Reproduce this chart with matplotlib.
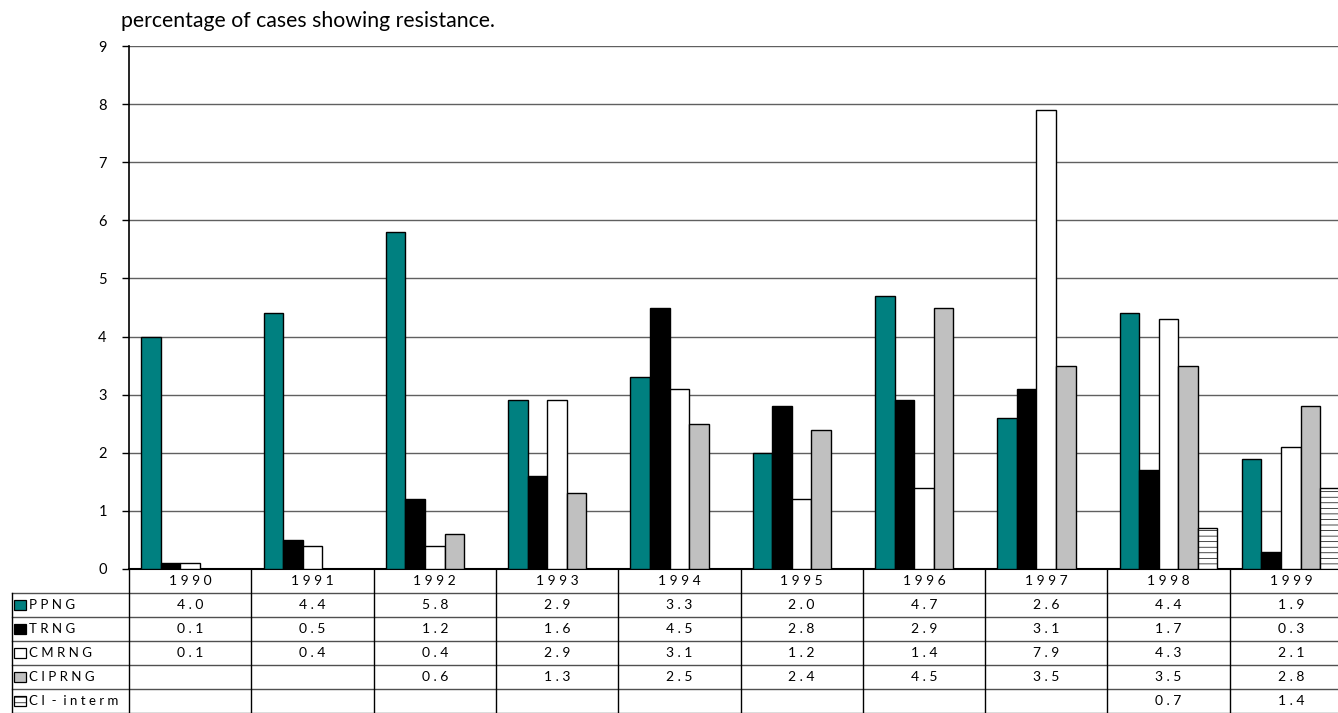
import numpy as np
import matplotlib
matplotlib.use('Agg')
from matplotlib import pyplot as plt
from matplotlib.patches import Rectangle

plt.rcParams['font.family'] = ['Lato', 'DejaVu Sans']
plt.rcParams['hatch.linewidth'] = 0.5
plt.rcParams['hatch.color'] = '#555555'

years = ['1990', '1991', '1992', '1993', '1994', '1995', '1996', '1997', '1998', '1999']
series_names = ['PPNG', 'TRNG', 'CMRNG', 'CIPRNG', 'CI - interm']
ppng = [4.0, 4.4, 5.8, 2.9, 3.3, 2.0, 4.7, 2.6, 4.4, 1.9]
trng = [0.1, 0.5, 1.2, 1.6, 4.5, 2.8, 2.9, 3.1, 1.7, 0.3]
cmrng = [0.1, 0.4, 0.4, 2.9, 3.1, 1.2, 1.4, 7.9, 4.3, 2.1]
ciprng = [None, None, 0.6, 1.3, 2.5, 2.4, 4.5, 3.5, 3.5, 2.8]
ci_interm = [None, None, None, None, None, None, None, None, 0.7, 1.4]

all_series = [ppng, trng, cmrng, ciprng, ci_interm]
face_colors = ['#008080', '#000000', '#ffffff', '#c0c0c0', '#ffffff']
hatches = [None, None, None, None, '---']

W, H = 1338, 713
fig = plt.figure(figsize=(W / 100, H / 100), dpi=100)

# axes run past the right edge of the page on purpose
ax_left, ax_width = 129 / W, 1223 / W
ax = fig.add_axes([ax_left, 144 / H, ax_width, 523 / H])
ax_tab = fig.add_axes([ax_left, 0, ax_width, 144 / H])

x = np.arange(len(years))
bar_w = 0.16
for j, (vals, fc, hh) in enumerate(zip(all_series, face_colors, hatches)):
    for i, v in enumerate(vals):
        if v is None:
            continue
        ax.bar(x[i] + (j - 2) * bar_w, v, width=bar_w, color=fc, edgecolor='black',
               linewidth=1.0, hatch=hh, zorder=3)

ax.set_xlim(-0.5, len(years) - 0.5)
ax.set_ylim(0, 9)
ax.set_yticks(range(0, 10))
ax.set_xticks([])
ax.tick_params(axis='y', direction='out', length=5, width=1, pad=11, labelsize=10.5)
ax.yaxis.grid(True, color='#606060', linewidth=1.0)
ax.set_axisbelow(True)
for side in ['top', 'right']:
    ax.spines[side].set_visible(False)
ax.spines['left'].set_linewidth(1.2)
ax.spines['bottom'].set_linewidth(1.5)

fig.text(121 / W, 1 - 21 / H, 'percentage of cases showing resistance.',
         fontsize=15.3, va='center', ha='left')

# data table under the chart
ax_tab.set_xlim(-0.5, len(years) - 0.5)
ax_tab.set_ylim(6, 0)
ax_tab.axis('off')
px = 1 / 122.3
lab_left = -0.5 - 117 * px


def spaced(s):
    return ' '.join(s)


for k in range(1, 7):
    ax_tab.plot([lab_left, len(years) - 0.5], [k, k], color='#505050', lw=1.0, clip_on=False)
for b in range(len(years) + 1):
    ax_tab.plot([b - 0.5, b - 0.5], [0, 6], color='black', lw=1.0, clip_on=False)
ax_tab.plot([lab_left, lab_left], [1, 6], color='black', lw=1.0, clip_on=False)

for i, yr in enumerate(years):
    ax_tab.text(i, 0.5, spaced(yr), ha='center', va='center', fontsize=10, clip_on=False)

for r, (name, vals, fc, hh) in enumerate(zip(series_names, all_series, face_colors, hatches)):
    row_y = r + 1.5
    ax_tab.add_patch(Rectangle((-0.5 - 115 * px, row_y - 0.2), 12 * px, 0.4,
                               facecolor=fc, edgecolor='black', lw=0.9, hatch=hh,
                               clip_on=False))
    label = 'C I  -  i n t e r m' if name == 'CI - interm' else spaced(name)
    ax_tab.text(-0.5 - 100 * px, row_y, label, ha='left', va='center', fontsize=9.5,
                clip_on=False)
    for i, v in enumerate(vals):
        if v is None:
            continue
        ax_tab.text(i, row_y, spaced(f'{v:.1f}'), ha='center', va='center',
                    fontsize=10, clip_on=False)

fig.savefig('out.png', dpi=100)
